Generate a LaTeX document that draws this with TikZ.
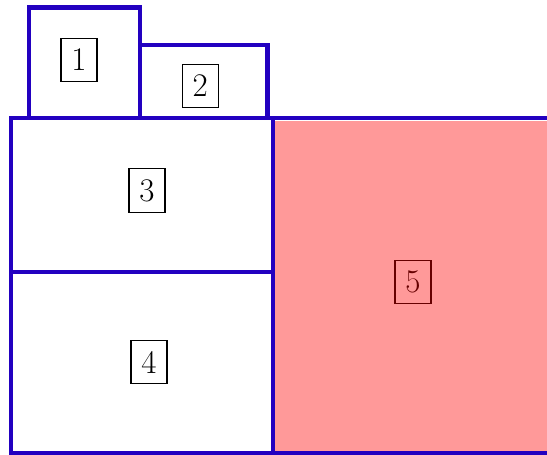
\documentclass[tikz,border=0pt]{standalone}
\begin{document}
\begin{tikzpicture}[x=1pt,y=-1pt,
  wall/.style={draw=blueline,line width=4.6pt,line join=miter},
  lab/.style={draw=black,line width=1.2pt,font=\fontsize{33}{40}\selectfont,inner sep=10.5pt}]
\definecolor{blueline}{RGB}{34,0,192}
\useasboundingbox (0,0) rectangle (547,455);
\begin{scope}
\clip (0,0) rectangle (547,455);
% region 5 label and tint
\node[lab] (l5) at (413,282) {5};
\fill[red,fill opacity=0.4] (275.3,120.7) rectangle (547,450.5);
% walls
\draw[wall] (29,118) -- (29,7.7) -- (140,7.7) -- (140,118);
\draw[wall] (140,45) -- (267.5,45) -- (267.5,118);
\draw[wall] (11,118) -- (560,118);
\draw[wall] (11,116) -- (11,453.6);
\draw[wall] (9,453.6) -- (560,453.6);
\draw[wall] (273,118) -- (273,453.6);
\draw[wall] (11,272) -- (273,272);
\end{scope}
\node[lab] (l1) at (79,60) {1};
\node[lab] (l2) at (200.3,86) {2};
\node[lab] (l3) at (147,190.5) {3};
\node[lab] (l4) at (149,362) {4};
\end{tikzpicture}
\end{document}
